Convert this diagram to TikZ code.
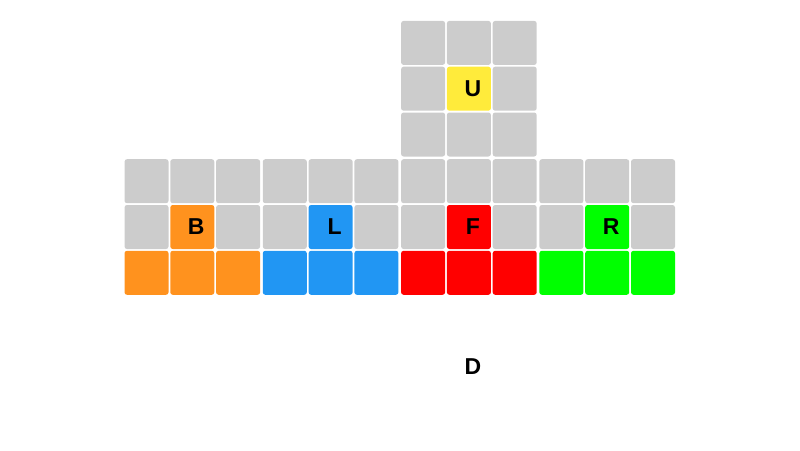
\documentclass[tikz,border=0pt]{standalone}
\usepackage{fontspec}
\setmainfont{Liberation Sans}
\usetikzlibrary{positioning}

\definecolor{cubegray}{HTML}{CCCCCC}
\definecolor{cubeorange}{HTML}{FF921E}
\definecolor{cubeblue}{HTML}{2196F3}
\definecolor{cubered}{HTML}{FF0000}
\definecolor{cubegreen}{HTML}{00FF00}
\definecolor{cubeyellow}{HTML}{FFEB3B}

\begin{document}
\begin{tikzpicture}[x=1pt,y=1pt,node distance=138.3pt,on grid,
    sticker/.style={rectangle,rounded corners=2.5pt,minimum size=44pt,inner sep=0pt,fill=#1},
    sticker/.default=cubegray,
    facelabel/.style={font=\bfseries\fontsize{23}{23}\selectfont,xshift=4pt,inner sep=0pt}]
  \useasboundingbox (0,0) rectangle (800,-450);
  % face centres
  \coordinate (F) at (468.9,-227);
  \coordinate [left=of F] (L);
  \coordinate [left=of L] (B);
  \coordinate [right=of F] (R);
  \coordinate [above=of F] (U);
  \coordinate [below=of F] (D);

  % side faces
  \foreach \f/\c in {B/cubeorange,L/cubeblue,F/cubered,R/cubegreen}{
    \foreach \i in {1,2,3}{
      \node[sticker] (\f1\i) at ([shift={({45.8pt*\i-91.6pt},45.8pt)}]\f) {};
      \node[sticker=\c] (\f3\i) at ([shift={({45.8pt*\i-91.6pt},-45.8pt)}]\f) {};
    }
    \node[sticker] (\f21) at ([xshift=-45.8pt]\f) {};
    \node[sticker=\c] (\f22) at (\f) {};
    \node[sticker] (\f23) at ([xshift=45.8pt]\f) {};
    \node[facelabel] (\f lbl) at (\f) {\f};
  }

  % top face
  \foreach \i in {1,2,3}{
    \node[sticker] (U1\i) at ([shift={({45.8pt*\i-91.6pt},45.8pt)}]U) {};
    \node[sticker] (U3\i) at ([shift={({45.8pt*\i-91.6pt},-45.8pt)}]U) {};
  }
  \node[sticker] (U21) at ([xshift=-45.8pt]U) {};
  \node[sticker=cubeyellow] (U22) at (U) {};
  \node[sticker] (U23) at ([xshift=45.8pt]U) {};
  \node[facelabel] (U lbl) at (U) {U};

  % bottom face, label only
  \node[facelabel] (D lbl) at ([yshift=-1pt]D) {D};
\end{tikzpicture}
\end{document}
